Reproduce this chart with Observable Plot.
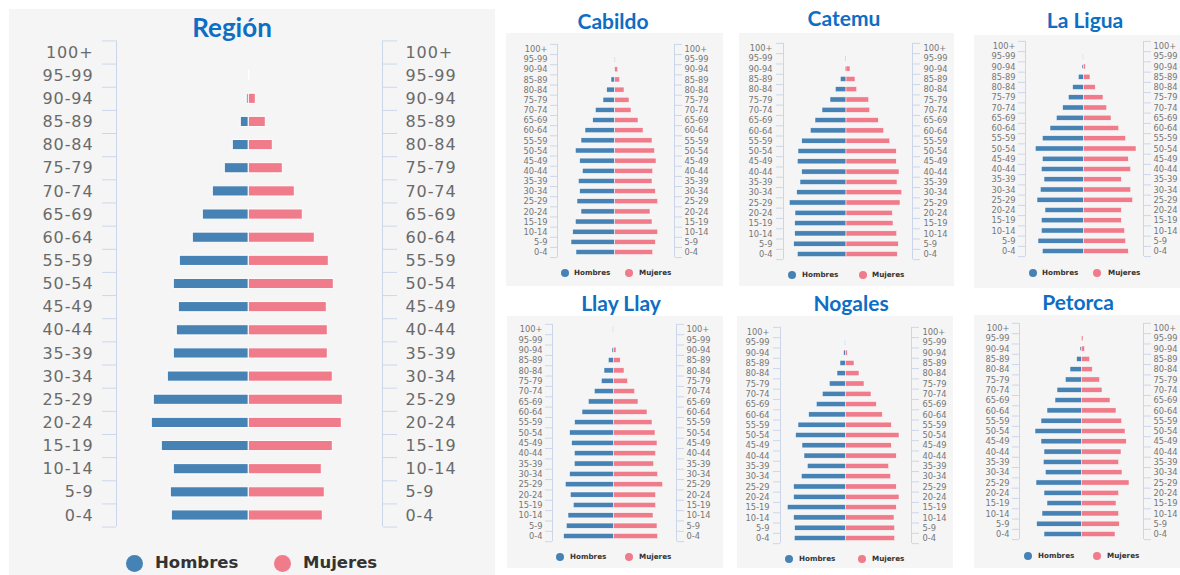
<!DOCTYPE html>
<html><head><meta charset="utf-8">
<script src="https://cdn.jsdelivr.net/npm/d3@7"></script>
<script src="https://cdn.jsdelivr.net/npm/@observablehq/plot@0.6"></script>
<style>
body{margin:0;background:#fff;}
#root{position:relative;width:1180px;height:575px;overflow:hidden;font-family:"DejaVu Sans",sans-serif;}
.box{position:absolute;background:#f5f5f5;}
.title{position:absolute;font-family:Lato,sans-serif;font-weight:700;color:#0e6ec4;white-space:nowrap;transform:translate(-50%,-88.7%);line-height:1}
.plot{position:absolute;}
.leg{position:absolute;font-family:"DejaVu Sans",sans-serif;font-weight:bold;color:#333;white-space:nowrap;line-height:1;transform:translateY(-50%)}
.dot{position:absolute;border-radius:50%}
</style></head><body><div id="root"></div><script>
// Age groups (bottom to top)
const ages = ["0-4","5-9","10-14","15-19","20-24","25-29","30-34","35-39","40-44","45-49","50-54","55-59","60-64","65-69","70-74","75-79","80-84","85-89","90-94","95-99","100+"];
const sexes = ["Hombres", "Mujeres"];
const colors = ["#4682b4", "#f07b8a"];

// Relative bar lengths, ages 0-4 ... 100+
const regionHombres = [77, 78, 75, 87, 97, 95, 81, 75, 72, 70, 75, 69, 56, 46, 36, 24, 16, 8, 2, 0.5, 0];
const regionMujeres = [74, 76, 73, 84, 93, 94, 84, 79, 79, 78, 85, 80, 66, 54, 46, 34, 24, 17, 7, 0.5, 0];

const cabildoHombres = [38.7, 43.7, 42, 39.3, 33.7, 37.7, 35, 36.3, 32.3, 35, 39.3, 33.7, 29.7, 22, 19.3, 11.7, 8, 3.7, 0.3, 0.5, 0];
const cabildoMujeres = [38, 40.7, 43, 37.3, 35.3, 43, 40.7, 37.3, 38, 41.3, 39.7, 37.3, 28.3, 23.3, 16.3, 14.3, 9.3, 5, 3, 0.5, 0];

const catemuHombres = [48.7, 52.3, 51.3, 51.3, 51, 56.7, 49.3, 46, 44.3, 48.7, 48, 44.3, 35.7, 31, 24, 16, 10.7, 5.7, 1, 0.7, 0];
const catemuMujeres = [51.3, 52.3, 50.7, 47, 46.3, 54, 55.7, 51, 53, 50.3, 50.3, 43.7, 37.7, 32.3, 23.7, 22.7, 10.7, 9, 4, 0, 0];

const laLiguaHombres = [41, 45.3, 42, 42, 38.3, 46.3, 43, 39.3, 42, 41, 48, 41, 33.3, 27, 20.7, 15, 10.7, 5, 1.3, 0.5, 0];
const laLiguaMujeres = [45, 42.3, 41.3, 38, 38, 49.3, 47.3, 38, 47.3, 45, 52.7, 42.3, 35.3, 27.7, 23.3, 19.7, 12, 6.7, 2, 0.5, 0];

const llayLlayHombres = [49.7, 47, 45.3, 40, 43, 48, 43.7, 39, 39, 41.7, 43.7, 38.7, 31.3, 25, 19, 12, 9.3, 5, 1.3, 0, 0.5];
const llayLlayMujeres = [44.3, 43.7, 39.7, 42.3, 42.3, 49.3, 44.3, 40.3, 42.3, 43.7, 41.7, 38.7, 33.7, 24.7, 21.3, 14.3, 10.7, 7, 2.7, 0, 0.5];

const nogalesHombres = [51, 50.7, 51.7, 58, 51.7, 51.7, 44, 38, 41.3, 43.3, 49.7, 47.3, 36.7, 29, 23, 16, 8.3, 5.3, 1.7, 0.5, 0];
const nogalesMujeres = [49.3, 49.3, 48.7, 51, 53.7, 51, 45.3, 43.3, 51, 46, 53.7, 46, 37, 31, 25.7, 18.7, 13.7, 8.7, 2, 0.5, 0];

const petorcaHombres = [37.3, 44.7, 39.3, 34.3, 37.3, 45.3, 36, 38, 37.3, 40.3, 46.3, 40.3, 34.3, 26.3, 24.3, 16, 11.3, 4.7, 1.3, 0, 0];
const petorcaMujeres = [33.7, 38, 37.3, 34.7, 37.3, 47.7, 40.7, 37.3, 39.7, 45, 43.7, 40.3, 34.7, 28.7, 20.7, 18.3, 11, 8.3, 3.3, 1.7, 0];

// Layout of each panel (pixels)
const panels = [
  {name:"Región", m:regionHombres, f:regionMujeres, box:[9,9,486,566], tx:232, ty:37, tsize:26,
   axisL:116, axisR:382, center:248.3, topY:52, botY:515, tick:14, gap:23, fs:16, ls:"0.9px", lab:"#6a6a6a", bh:0.22, sw:1,
   legY:563, legX:[134,282], legT:[155,303], r:8.5, lfs:16.5},
  {name:"Cabildo", m:cabildoHombres, f:cabildoMujeres, box:[506,33,217,253], tx:613, ty:29, tsize:21,
   axisL:557, axisR:674, center:614.7, topY:49, botY:252, tick:7, gap:10, fs:8.3, ls:"0px", lab:"#777", bh:0.25, sw:0.5,
   legY:273, legX:[565,629], legT:[574,639], r:4, lfs:7.2},
  {name:"Catemu", m:catemuHombres, f:catemuMujeres, box:[739,33,215,253], tx:844, ty:26, tsize:21,
   axisL:783, axisR:912, center:846, topY:48, botY:254, tick:7, gap:11, fs:8.3, ls:"0px", lab:"#777", bh:0.25, sw:0.5,
   legY:275, legX:[792,863], legT:[802,872], r:4, lfs:7.2},
  {name:"La Ligua", m:laLiguaHombres, f:laLiguaMujeres, box:[974,35,206,253], tx:1085, ty:28, tsize:21,
   axisL:1025, axisR:1143, center:1083.3, topY:46, botY:251, tick:7, gap:10, fs:8.3, ls:"0px", lab:"#777", bh:0.25, sw:0.5,
   legY:273, legX:[1033,1097], legT:[1042,1108], r:4, lfs:7.2},
  {name:"Llay Llay", m:llayLlayHombres, f:llayLlayMujeres, box:[507,316,216,252], tx:621, ty:311, tsize:21,
   axisL:552, axisR:676, center:613.3, topY:329, botY:536, tick:7, gap:10, fs:8.3, ls:"0px", lab:"#777", bh:0.25, sw:0.5,
   legY:557, legX:[560,629], legT:[570,639], r:4, lfs:7.2},
  {name:"Nogales", m:nogalesHombres, f:nogalesMujeres, box:[737,316,216,252], tx:851, ty:311, tsize:21,
   axisL:780, axisR:911, center:845.3, topY:332, botY:538, tick:7, gap:11, fs:8.3, ls:"0px", lab:"#777", bh:0.25, sw:0.5,
   legY:559, legX:[789,862], legT:[799,872], r:4, lfs:7.2},
  {name:"Petorca", m:petorcaHombres, f:petorcaMujeres, box:[974,315,206,253], tx:1078, ty:310, tsize:21,
   axisL:1019, axisR:1143, center:1081.3, topY:328, botY:534, tick:7, gap:10, fs:8.3, ls:"0px", lab:"#777", bh:0.25, sw:0.5,
   legY:556, legX:[1028,1097], legT:[1038,1107], r:4, lfs:7.2}
];

const root = document.getElementById("root");
const axisColor = "#ccd6eb";

function el(cls, css, text) {
  const d = document.createElement("div");
  d.className = cls;
  Object.assign(d.style, css);
  if (text != null) d.textContent = text;
  root.appendChild(d);
  return d;
}

for (const p of panels) {
  const [bx, by, bw, bh] = p.box;
  el("box", {left: bx + "px", top: by + "px", width: bw + "px", height: bh + "px"});
  el("title", {left: p.tx + "px", top: p.ty + "px", fontSize: p.tsize + "px"}, p.name);

  const rows = ages.map((a, i) => ({age: a, i, m: p.m[i], f: p.f[i]}));
  const s = (p.botY - p.topY) / (ages.length - 1);
  const topB = p.topY - s / 2 - by;
  const botB = p.botY + s / 2 - by;
  const H = Math.ceil(botB) + 3;
  const bounds = d3.range(-0.5, ages.length, 1);
  const idx = d3.range(ages.length);

  const chart = Plot.plot({
    width: bw,
    height: H,
    marginLeft: p.axisL - bx,
    marginRight: bx + bw - p.axisR,
    marginTop: topB,
    marginBottom: H - botB,
    style: {background: "transparent", fontFamily: "DejaVu Sans, sans-serif", overflow: "visible", letterSpacing: p.ls},
    x: {domain: [p.axisL - p.center, p.axisR - p.center], axis: null},
    y: {domain: [-0.5, ages.length - 0.5]},
    marks: [
      Plot.ruleX([p.axisL - p.center, p.axisR - p.center], {y1: -0.5, y2: ages.length - 0.5, stroke: axisColor, strokeWidth: 1}),
      Plot.axisY({anchor: "left", ticks: bounds, tickSize: p.tick, tickFormat: () => "", stroke: axisColor, strokeOpacity: 1, label: null}),
      Plot.axisY({anchor: "right", ticks: bounds, tickSize: p.tick, tickFormat: () => "", stroke: axisColor, strokeOpacity: 1, label: null}),
      Plot.axisY({anchor: "left", ticks: idx, tickSize: 0, tickPadding: p.gap, tickFormat: i => ages[i], fill: p.lab, fontSize: p.fs, label: null}),
      Plot.axisY({anchor: "right", ticks: idx, tickSize: 0, tickPadding: p.gap, tickFormat: i => ages[i], fill: p.lab, fontSize: p.fs, label: null, textAnchor: "start"}),
      Plot.rect(rows, {x1: d => -d.m, x2: 0, y1: d => d.i - p.bh, y2: d => d.i + p.bh, fill: colors[0], stroke: "white", strokeWidth: p.sw}),
      Plot.rect(rows, {x1: 0, x2: "f", y1: d => d.i - p.bh, y2: d => d.i + p.bh, fill: colors[1], stroke: "white", strokeWidth: p.sw})
    ]
  });
  const wrap = el("plot", {left: bx + "px", top: by + "px"});
  wrap.appendChild(chart);

  sexes.forEach((sx, k) => {
    el("dot", {left: (p.legX[k] - p.r) + "px", top: (p.legY - p.r) + "px", width: 2 * p.r + "px", height: 2 * p.r + "px", background: colors[k]});
    el("leg", {left: p.legT[k] + "px", top: p.legY + "px", fontSize: p.lfs + "px"}, sx);
  });
}
</script></body></html>
